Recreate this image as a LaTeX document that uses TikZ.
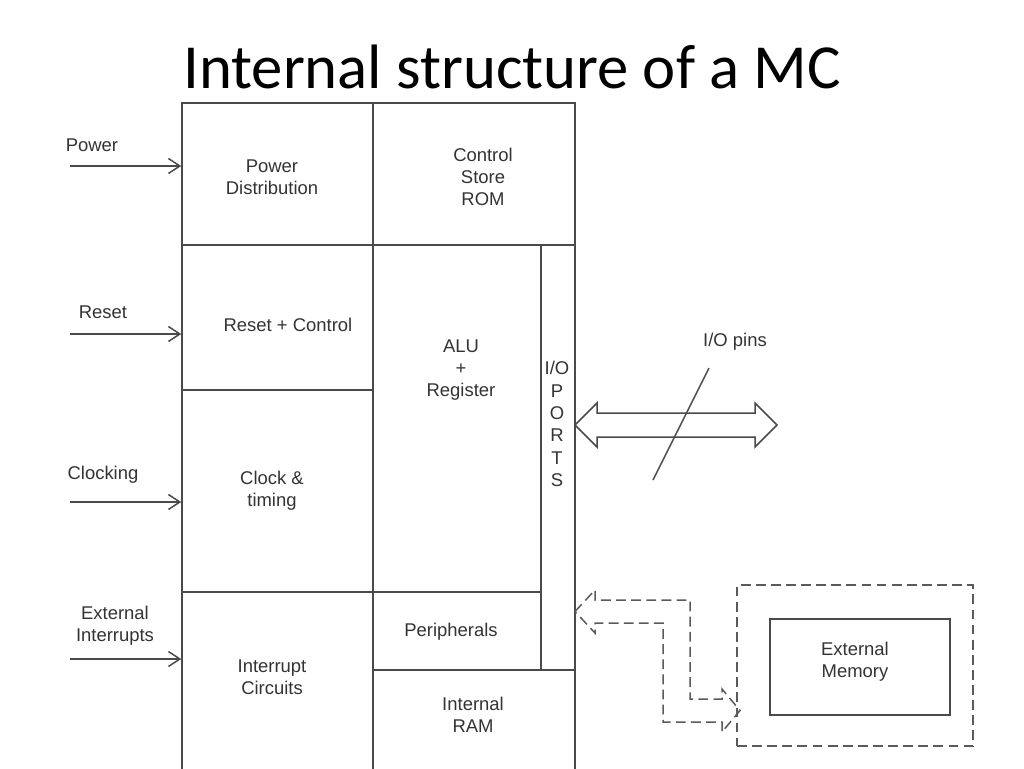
\documentclass[tikz,border=0pt]{standalone}
\usepackage{fontspec}
\setmainfont{Liberation Sans}
\newfontfamily\titlefont{Carlito}
\usetikzlibrary{fit,arrows.meta}
\definecolor{ln}{HTML}{4A4A4A}
\definecolor{tx}{HTML}{333333}
\definecolor{dsh}{HTML}{5A5A5A}
\begin{document}
\begin{tikzpicture}[x=0.02cm,y=-0.02cm,
  blk/.style={draw=ln,line width=0.85pt,inner sep=0pt},
  lbl/.style={text=tx,align=center,font=\fontsize{10.5}{12.6}\selectfont,inner sep=0pt},
  inarr/.style={draw=ln,line width=0.85pt,-{Straight Barb[length=6.5pt,width=8.5pt]}},
  dsty/.style={draw=dsh,line width=0.85pt,dash pattern=on 5.6pt off 3pt}]
\useasboundingbox (0,0) rectangle (1024,768);
% title
\node[anchor=base,text=black,font=\titlefont\fontsize{35.7}{40}\selectfont,inner sep=0pt] (title) at (512,88) {Internal structure of a MC};
% corner coordinates
\foreach \n/\x/\y in {a1/182/103,a2/373/245,b1/373/103,b2/575/245,c1/182/245,c2/373/390,
  d1/182/390,d2/373/592,e1/182/592,e2/373/775,f1/373/245,f2/541/592,g1/541/245,g2/575/670,
  h1/373/592,h2/541/670,i1/373/670,i2/575/775}
  \coordinate (\n) at (\x,\y);
\node[blk,fit=(a1)(a2)] (pd) {};
\node[blk,fit=(b1)(b2)] (csr) {};
\node[blk,fit=(c1)(c2)] (rc) {};
\node[blk,fit=(d1)(d2)] (clk) {};
\node[blk,fit=(e1)(e2)] (irq) {};
\node[blk,fit=(f1)(f2)] (alu) {};
\node[blk,fit=(g1)(g2)] (io) {};
\node[blk,fit=(h1)(h2)] (per) {};
\node[blk,fit=(i1)(i2)] (ram) {};
% block texts
\node[lbl] (tpd) at (272,177) {Power\\Distribution};
\node[lbl] (tcsr) at (483,177) {Control\\Store\\ROM};
\node[lbl] (trc) at (288,325) {Reset + Control};
\node[lbl] (talu) at (461,370) {ALU\\+\\Register};
\node[lbl,font=\fontsize{10.5}{12.7}\selectfont] (tio) at (557,424) {I/O\\P\\O\\R\\T\\S};
\node[lbl] (tclk) at (272,491) {Clock \&\\timing};
\node[lbl] (tper) at (451,632) {Peripherals};
\node[lbl] (tirq) at (272,677) {Interrupt\\Circuits};
\node[lbl] (tram) at (473,715) {Internal\\RAM};
% inputs
\node[lbl] (lpow) at (92,145) {Power};
\node[lbl] (lres) at (103,312) {Reset};
\node[lbl] (lclk) at (103,475) {Clocking};
\node[lbl] (lint) at (115,626) {External\\Interrupts};
\coordinate (pin) at (70,166);
\coordinate (rin) at (70,334);
\coordinate (cin) at (70,502);
\coordinate (iin) at (70,659);
\draw[inarr] (pin) -- (pin -| pd.west);
\draw[inarr] (rin) -- (rin -| rc.west);
\draw[inarr] (cin) -- (cin -| clk.west);
\draw[inarr] (iin) -- (iin -| irq.west);
% I/O double arrow
\coordinate (L) at (575,425);
\coordinate (R) at (777,425);
\draw[draw=ln,line width=0.85pt,line join=miter]
  (L) -- ++(22,-22) -- ++(0,10) -- (755,413) -- (755,403) -- (R) -- (755,447) -- (755,437) -- (597,437) -- (597,447) -- cycle;
\coordinate (s1) at (653,480);
\coordinate (s2) at (709,368);
\draw[draw=ln,line width=0.85pt] (s1) -- (s2);
\node[lbl] (lpins) at (735,342) {I/O pins};
% external memory
\coordinate (m1) at (737,585);
\coordinate (m2) at (973,746);
\node[dsty,fit=(m1)(m2),inner sep=0pt] (emout) {};
\coordinate (n1) at (770,619);
\coordinate (n2) at (950,715);
\node[blk,fit=(n1)(n2)] (em) {};
\node[lbl] (tem) at (855,662) {External\\Memory};
% dashed L-shaped double arrow
\coordinate (dl) at (575,611.5);
\coordinate (dr) at (740,710.5);
\draw[dsty]
  (dl) -- (595,590) -- (595,600) -- (690,600) -- (690,699) -- (722,699) -- (722,689)
  -- (dr) -- (722,732) -- (722,722) -- (663,722) -- (663,623) -- (595,623) -- (595,633) -- cycle;
\end{tikzpicture}
\end{document}
